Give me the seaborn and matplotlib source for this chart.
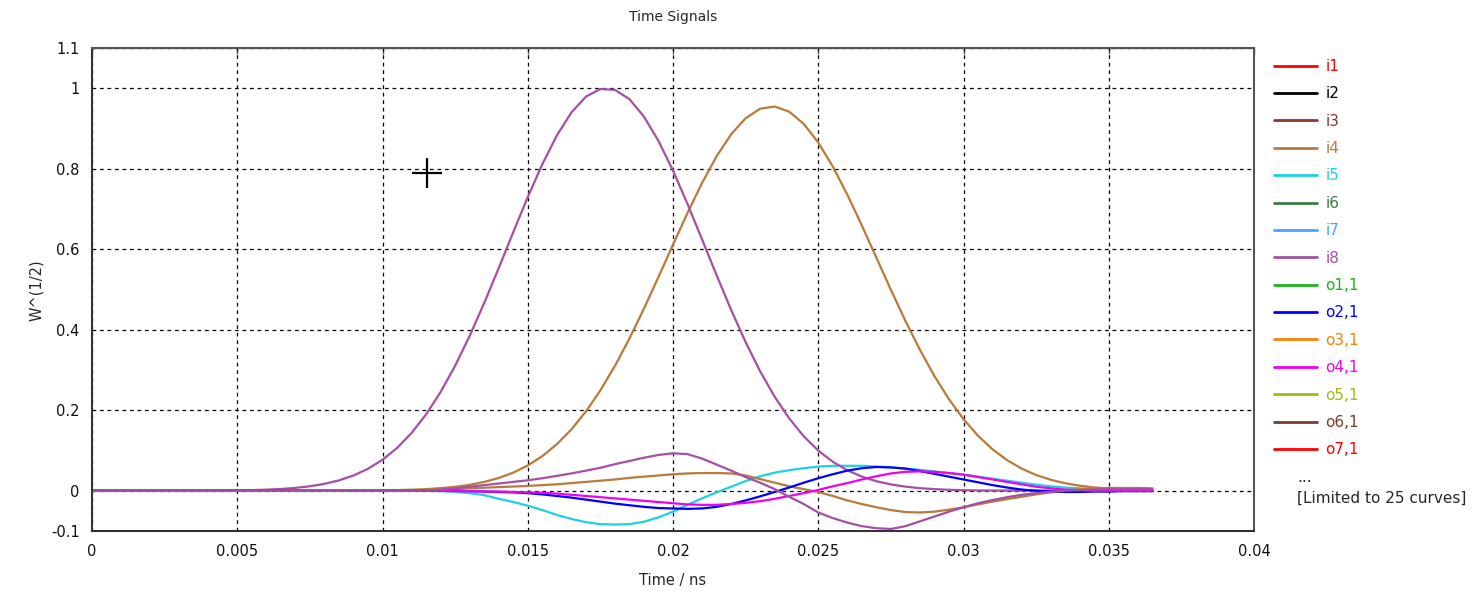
import numpy as np
import pandas as pd
import matplotlib
matplotlib.use("Agg")
import matplotlib.pyplot as plt
from matplotlib.lines import Line2D
import seaborn as sns

# ---------------- data ----------------
# sample times (ns), step 0.0005 ns, 0 .. 0.0365
time_ns = np.round(np.arange(74) * 0.0005, 4)

# big input pulse i8 (purple)
sig_i8 = [0, 0, 0, 0, 0, 0, 0, 0, 0.0003, 0.0005,
          0.0009, 0.0016, 0.0027, 0.0044, 0.0071, 0.0111, 0.0171, 0.0257, 0.0379, 0.0546,
          0.0770, 0.1062, 0.1435, 0.1896, 0.2453, 0.3105, 0.3847, 0.4663, 0.5532, 0.6422,
          0.7296, 0.8111, 0.8825, 0.9396, 0.979, 0.998, 0.996, 0.973, 0.9295, 0.869,
          0.7955, 0.7124, 0.6244, 0.5355, 0.4495, 0.3692, 0.2967, 0.2334, 0.1797, 0.1353,
          0.0998, 0.0720, 0.0508, 0.0351, 0.0237, 0.0157, 0.0102, 0.0064, 0.0040, 0.0024,
          0.0014, 0.0008, 0.0005, 0.0005, 0.0005, 0.0005, 0.0005, 0.0005, 0.0005, 0.0005,
          0.0005, 0.0005, 0.0005, 0.0005]

# big input pulse i4 (tan)
sig_i4 = [0, 0, 0, 0, 0, 0, 0, 0, 0, 0,
          0, 0, 0, 0, 0, 0, 0.0001, 0.0002, 0.0003, 0.0005,
          0.0009, 0.0016, 0.0025, 0.0040, 0.0064, 0.0098, 0.0147, 0.0218, 0.0316, 0.0450,
          0.0628, 0.0859, 0.1155, 0.1521, 0.1967, 0.2494, 0.3101, 0.3782, 0.4525, 0.5311,
          0.6114, 0.6904, 0.7647, 0.8309, 0.8855, 0.9256, 0.9491, 0.9546, 0.9418, 0.9115,
          0.8652, 0.8056, 0.7357, 0.6591, 0.5792, 0.4993, 0.4221, 0.3501, 0.2848, 0.2273,
          0.1779, 0.1366, 0.1029, 0.0760, 0.0551, 0.0392, 0.0273, 0.0186, 0.0125, 0.0082,
          0.0053, 0.0034, 0.0021, 0.0013]

# cyan signal (i5)
sig_i5 = [0, 0, 0, 0, 0, 0, 0, 0, 0, 0,
          0, 0, 0, 0, 0, 0, 0, 0, 0, 0,
          0, 0, 0, 0, -0.001, -0.003, -0.006, -0.011, -0.020, -0.028,
          -0.037, -0.048, -0.060, -0.070, -0.078, -0.083, -0.084, -0.083, -0.077, -0.066,
          -0.052, -0.035, -0.019, -0.004, 0.010, 0.024, 0.036, 0.045, 0.051, 0.056,
          0.060, 0.062, 0.062, 0.062, 0.060, 0.058, 0.055, 0.052, 0.048, 0.044,
          0.040, 0.035, 0.030, 0.025, 0.020, 0.015, 0.011, 0.008, 0.006, 0.004,
          0.003, 0.002, 0.002, 0.002]

# small tan output signal
sig_o8 = [0, 0, 0, 0, 0, 0, 0, 0, 0, 0,
          0, 0, 0, 0, 0, 0, 0, 0, 0, 0,
          0, 0.0005, 0.001, 0.002, 0.003, 0.0045, 0.006, 0.0075, 0.009, 0.0105,
          0.012, 0.014, 0.016, 0.019, 0.022, 0.025, 0.028, 0.032, 0.035, 0.038,
          0.041, 0.043, 0.044, 0.044, 0.043, 0.038, 0.029, 0.020, 0.011, 0.004,
          -0.003, -0.013, -0.024, -0.033, -0.041, -0.048, -0.053, -0.054, -0.052, -0.047,
          -0.041, -0.034, -0.027, -0.021, -0.015, -0.009, -0.004, 0.000, 0.004, 0.006,
          0.007, 0.007, 0.007, 0.006]

# blue output signal o2,1
sig_o2 = [0, 0, 0, 0, 0, 0, 0, 0, 0, 0,
          0, 0, 0, 0, 0, 0, 0, 0, 0, 0,
          0, 0, 0, 0, 0, 0, -0.001, -0.002, -0.003, -0.004,
          -0.006, -0.009, -0.013, -0.017, -0.022, -0.027, -0.032, -0.036, -0.040, -0.043,
          -0.044, -0.045, -0.044, -0.040, -0.033, -0.024, -0.014, -0.003, 0.008, 0.020,
          0.031, 0.041, 0.050, 0.056, 0.059, 0.058, 0.055, 0.049, 0.042, 0.035,
          0.028, 0.021, 0.014, 0.008, 0.003, 0.000, -0.002, -0.003, -0.003, -0.002,
          -0.002, -0.001, -0.001, -0.001]

# magenta output signal o4,1
sig_o4 = [0, 0, 0, 0, 0, 0, 0, 0, 0, 0,
          0, 0, 0, 0, 0, 0, 0, 0, 0, 0,
          0, 0, 0, 0, 0, -0.001, -0.001, -0.002, -0.002, -0.003,
          -0.004, -0.005, -0.007, -0.010, -0.013, -0.016, -0.019, -0.022, -0.025, -0.028,
          -0.031, -0.034, -0.035, -0.035, -0.033, -0.030, -0.026, -0.020, -0.013, -0.006,
          0.002, 0.011, 0.019, 0.028, 0.036, 0.043, 0.047, 0.048, 0.047, 0.044,
          0.040, 0.034, 0.028, 0.022, 0.016, 0.010, 0.006, 0.003, 0.001, 0.000,
          0.000, 0.000, 0.000, 0.000]

# small purple output signal
sig_o9 = [0, 0, 0, 0, 0, 0, 0, 0, 0, 0,
          0, 0, 0, 0, 0, 0, 0, 0, 0, 0,
          0, 0, 0, 0.001, 0.003, 0.006, 0.010, 0.014, 0.018, 0.022,
          0.026, 0.031, 0.037, 0.043, 0.050, 0.057, 0.066, 0.074, 0.082, 0.089,
          0.093, 0.091, 0.080, 0.065, 0.050, 0.034, 0.020, 0.004, -0.015, -0.033,
          -0.054, -0.068, -0.079, -0.088, -0.093, -0.095, -0.088, -0.076, -0.064, -0.052,
          -0.041, -0.031, -0.023, -0.016, -0.010, -0.006, -0.003, 0.000, 0.002, 0.003,
          0.004, 0.004, 0.004, 0.004]

# drawn series (in drawing order) and their colours
series_names = ["i4", "i5", "i8", "o8,1", "o2,1", "o4,1", "o9,1"]
series_values = [sig_i4, sig_i5, sig_i8, sig_o8, sig_o2, sig_o4, sig_o9]
series_colors = ["#b97a3c", "#1ed2dc", "#a550a5", "#b97a3c", "#0000ff", "#f000f0", "#a550a5"]

# legend (as shown by the tool, limited list)
legend_names = ["i1", "i2", "i3", "i4", "i5", "i6", "i7", "i8",
                "o1,1", "o2,1", "o3,1", "o4,1", "o5,1", "o6,1", "o7,1"]
legend_colors = ["#ff0000", "#000000", "#8b3a2b", "#b97a3c", "#1ed2dc", "#3a7d44", "#4aa3ff",
                 "#a550a5", "#1db31d", "#0000ff", "#ff8000", "#f000f0", "#9dbb10", "#7f3a2b",
                 "#ff0000"]

x_ticks = [0, 0.005, 0.01, 0.015, 0.02, 0.025, 0.03, 0.035, 0.04]
x_tick_labels = ["0", "0.005", "0.01", "0.015", "0.02", "0.025", "0.03", "0.035", "0.04"]
y_ticks = [-0.1, 0, 0.2, 0.4, 0.6, 0.8, 1.0, 1.1]
y_tick_labels = ["-0.1", "0", "0.2", "0.4", "0.6", "0.8", "1", "1.1"]

cursor_t = [0.01153]
cursor_y = [0.789]

# ---------------- plotting ----------------
sns.set_style("white")
plt.rcParams["font.family"] = ["DejaVu Sans"]

frames = []
for name, vals in zip(series_names, series_values):
    frames.append(pd.DataFrame({"time": time_ns, "value": vals, "curve": name}))
df = pd.concat(frames, ignore_index=True)

W, H = 1476, 597
fig = plt.figure(figsize=(W / 100, H / 100), dpi=100)
fig.patch.set_facecolor("white")
ax = fig.add_axes([92 / W, 1 - 531 / H, (1254 - 92) / W, (531 - 48) / H])

sns.lineplot(data=df, x="time", y="value", hue="curve", hue_order=series_names,
             palette=dict(zip(series_names, series_colors)), sort=False,
             estimator=None, linewidth=1.6, legend=False, ax=ax)

ax.plot(cursor_t, cursor_y, marker="+", color="black", markersize=21, mew=1.6,
        linestyle="none")

ax.set_xlim(x_ticks[0], x_ticks[-1])
ax.set_ylim(y_ticks[0], y_ticks[-1])
ax.set_xticks(x_ticks)
ax.set_xticklabels(x_tick_labels)
ax.set_yticks(y_ticks)
ax.set_yticklabels(y_tick_labels)
ax.tick_params(axis="both", direction="out", length=5, width=1, color="#333333",
               labelsize=10.5, labelcolor="#111111", pad=4)
ax.grid(True, color="black", linestyle=(0, (3, 3)), linewidth=0.9)
ax.set_xlabel("")
ax.set_ylabel("")
for s in ax.spines.values():
    s.set_color("#555555")
    s.set_linewidth(1.5)
ax.spines["bottom"].set_color("#333333")
ax.spines["left"].set_color("#333333")

top = ax.secondary_xaxis("top")
top.set_xticks(x_ticks)
top.set_xticklabels([])
top.tick_params(direction="in", length=4, width=1, color="#555555")

fig.text(673 / W, 1 - 17 / H, "Time Signals", ha="center", va="center", fontsize=10)
fig.text(673 / W, 1 - 580 / H, "Time / ns", ha="center", va="center", fontsize=10.5)
fig.text(37 / W, 1 - 290 / H, "W^(1/2)", ha="center", va="center", rotation=90,
         fontsize=10.5)

handles = [Line2D([0], [0], color=c, linewidth=2) for c in legend_colors]
fig.legend(handles, legend_names, loc="upper left",
           bbox_to_anchor=(1274 / W, 1 - 59 / H), frameon=False, fontsize=11,
           labelcolor=legend_colors, handlelength=2.8, handletextpad=0.55,
           labelspacing=0.81, borderpad=0, borderaxespad=0)
fig.text(1297 / W, 1 - 477 / H, "...", ha="left", va="center", fontsize=11)
fig.text(1297 / W, 1 - 498 / H, "[Limited to 25 curves]", ha="left", va="center",
         fontsize=11)

fig.savefig("out.png", dpi=100)
